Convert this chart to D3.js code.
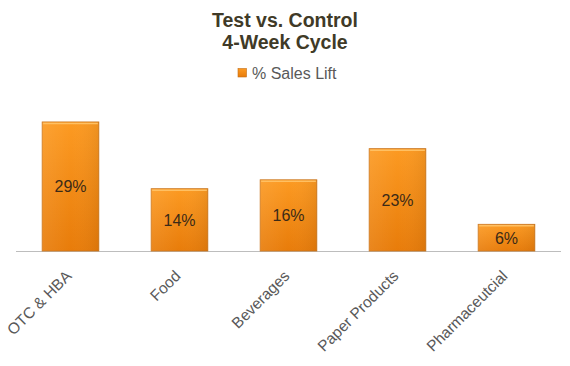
<!DOCTYPE html>
<html>
<head>
<meta charset="utf-8">
<script src="https://cdn.jsdelivr.net/npm/d3@7"></script>
<style>
  body { margin: 0; background: #fff; }
  text { font-family: "Liberation Sans", Arial, sans-serif; }
</style>
</head>
<body>
<svg></svg>
<script>
const width = 570;
const height = 366;

const categories = ["OTC & HBA", "Food", "Beverages", "Paper Products", "Pharmaceutcial"];
const salesLift = [29, 14, 16, 23, 6];
const titleLines = ["Test vs. Control", "4-Week Cycle"];
const legendLabel = "% Sales Lift";

const svg = d3.select("svg").attr("width", width).attr("height", height);

const baseY = 251;
const x = d3.scaleBand().domain(categories).range([16, 561]).paddingInner(0.48).paddingOuter(0.24);
const y = d3.scaleLinear().domain([0, 30]).range([baseY, baseY - 30 * 4.45]);

const defs = svg.append("defs");
const grad = defs.append("linearGradient")
  .attr("id", "barGrad")
  .attr("x1", 0).attr("y1", 0).attr("x2", 0).attr("y2", 1);
grad.append("stop").attr("offset", "0%").attr("stop-color", "#fc9a22");
grad.append("stop").attr("offset", "100%").attr("stop-color", "#e87c0a");

const hgrad = defs.append("linearGradient")
  .attr("id", "barShade")
  .attr("x1", 0).attr("y1", 0).attr("x2", 1).attr("y2", 0);
hgrad.append("stop").attr("offset", "0%").attr("stop-color", "#fff").attr("stop-opacity", 0.08);
hgrad.append("stop").attr("offset", "50%").attr("stop-color", "#fff").attr("stop-opacity", 0);
hgrad.append("stop").attr("offset", "100%").attr("stop-color", "#000").attr("stop-opacity", 0.06);

// title
svg.append("text")
  .attr("text-anchor", "middle")
  .attr("font-weight", "bold")
  .attr("font-size", 19.5)
  .attr("fill", "#403a27")
  .selectAll("tspan")
  .data(titleLines)
  .join("tspan")
  .attr("x", 285)
  .attr("y", (d, i) => 27 + i * 22)
  .text(d => d);

// legend
svg.append("rect")
  .attr("x", 238).attr("y", 68.5)
  .attr("width", 8.5).attr("height", 8.5)
  .attr("fill", "url(#barGrad)")
  .attr("stroke", "#c46d15").attr("stroke-width", 0.6);
svg.append("text")
  .attr("x", 252).attr("y", 78.5)
  .attr("font-size", 16)
  .attr("fill", "#595959")
  .text(legendLabel);

// axis line
svg.append("line")
  .attr("x1", 16).attr("x2", 561)
  .attr("y1", baseY + 0.5).attr("y2", baseY + 0.5)
  .attr("stroke", "#bdbdbd")
  .attr("stroke-width", 1.2);

const bars = svg.append("g");
bars.selectAll("rect.bar")
  .data(salesLift)
  .join("rect")
  .attr("class", "bar")
  .attr("x", (d, i) => x(categories[i]))
  .attr("y", d => y(d))
  .attr("width", x.bandwidth())
  .attr("height", d => y(0) - y(d))
  .attr("fill", "url(#barGrad)")
  .attr("stroke", "#c9741c")
  .attr("stroke-width", 0.8);

bars.selectAll("rect.shade")
  .data(salesLift)
  .join("rect")
  .attr("class", "shade")
  .attr("x", (d, i) => x(categories[i]))
  .attr("y", d => y(d))
  .attr("width", x.bandwidth())
  .attr("height", d => y(0) - y(d))
  .attr("fill", "url(#barShade)");

// top highlight
bars.selectAll("line.hi")
  .data(salesLift)
  .join("line")
  .attr("class", "hi")
  .attr("x1", (d, i) => x(categories[i]) + 1)
  .attr("x2", (d, i) => x(categories[i]) + x.bandwidth() - 1)
  .attr("y1", d => y(d) + 1.5)
  .attr("y2", d => y(d) + 1.5)
  .attr("stroke", "#ffc062")
  .attr("stroke-width", 1.5);

// value labels
svg.append("g").selectAll("text")
  .data(salesLift)
  .join("text")
  .attr("x", (d, i) => x(categories[i]) + x.bandwidth() / 2)
  .attr("y", d => (y(d) + y(0)) / 2 + 6)
  .attr("text-anchor", "middle")
  .attr("font-size", 16)
  .attr("fill", "#3b2a17")
  .text(d => d + "%");

// category labels
svg.append("g").selectAll("text")
  .data(categories)
  .join("text")
  .attr("transform", d => `translate(${x(d) + x.bandwidth() / 2 + 2},${baseY + 26}) rotate(-45)`)
  .attr("text-anchor", "end")
  .attr("font-size", 15.5)
  .attr("fill", "#595959")
  .text(d => d);
</script>
</body>
</html>
